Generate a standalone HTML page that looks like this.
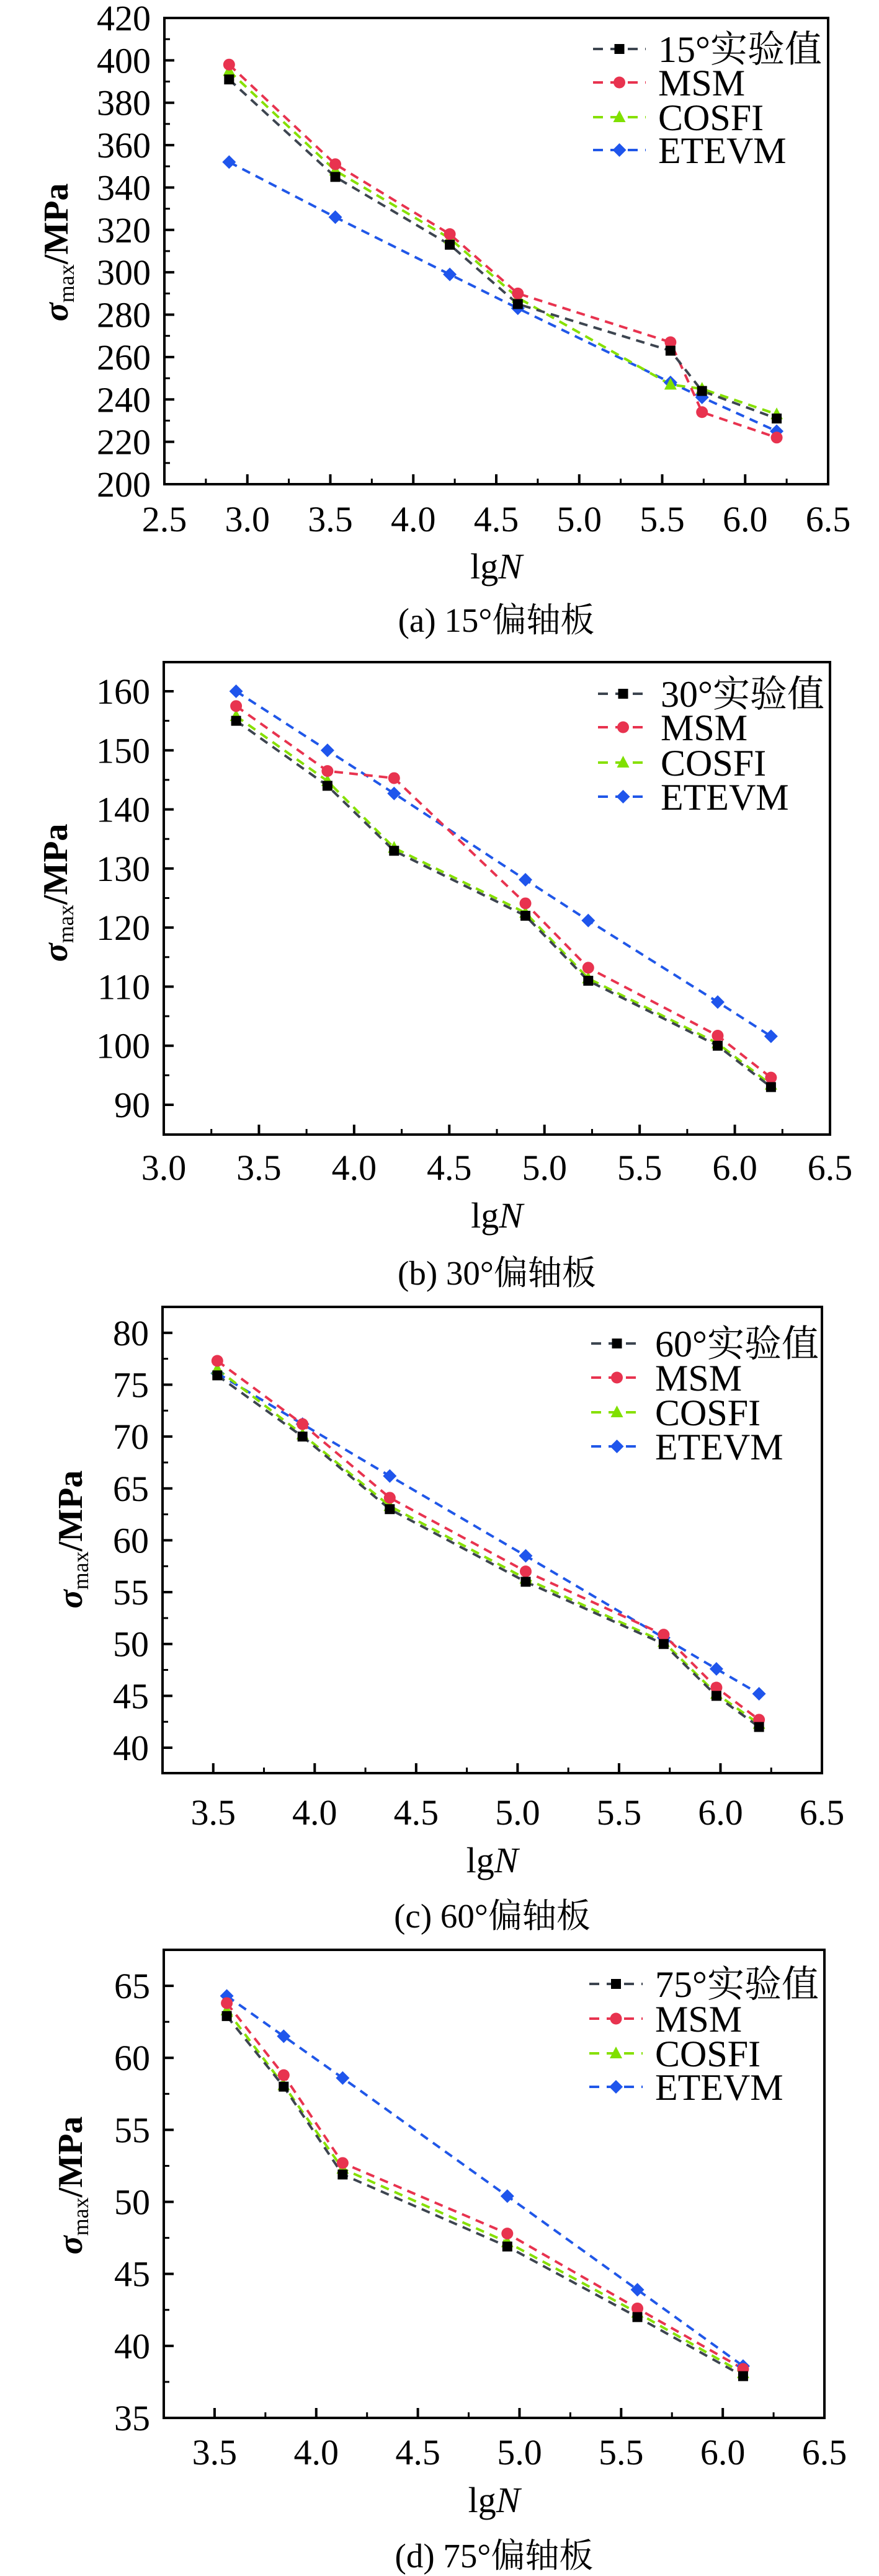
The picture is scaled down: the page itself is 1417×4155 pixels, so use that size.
<!DOCTYPE html>
<html><head><meta charset="utf-8"><style>
html,body{margin:0;padding:0;background:#fff;}
svg{display:block;}
text{font-family:"Liberation Serif","Noto Serif CJK SC","Noto Sans CJK SC",serif;fill:#000;}
</style></head><body>
<svg id="fig" width="1417" height="4155" viewBox="0 0 1417 4155" xmlns="http://www.w3.org/2000/svg"></svg>
<script>
// ---- data (a) 15°
const xA = [2.89, 3.53, 4.22, 4.63, 5.55, 5.74, 6.19];
const expA = [391, 345, 313, 285, 263, 244, 231];
const msmA = [398, 351, 318, 290, 267, 234, 222];
const cosA = [395, 348, 316, 288, 247, 245, 233];
const etvA = [352, 326, 299, 283, 248, 241, 225];
const xTicksA = ["2.5","3.0","3.5","4.0","4.5","5.0","5.5","6.0","6.5"];
const yTicksA = ["200","220","240","260","280","300","320","340","360","380","400","420"];
// ---- data (b) 30°
const xB = [3.38, 3.86, 4.21, 4.90, 5.23, 5.91, 6.19];
const expB = [155, 144, 133, 122, 111, 100, 93];
const msmB = [157.5, 146.5, 145.3, 124.1, 113.2, 101.7, 94.6];
const cosB = [155.8, 144.8, 133.5, 122.5, 111.4, 100.4, 93.4];
const etvB = [160, 150, 142.7, 128.1, 121.2, 107.4, 101.6];
const xTicksB = ["3.0","3.5","4.0","4.5","5.0","5.5","6.0","6.5"];
const yTicksB = ["90","100","110","120","130","140","150","160"];
// ---- data (c) 60°
const xC = [3.52, 3.94, 4.37, 5.04, 5.72, 5.98, 6.19];
const expC = [75.9, 70, 63, 56, 50, 45, 42];
const msmC = [77.3, 71.2, 64.1, 57, 50.9, 45.8, 42.7];
const cosC = [76.5, 70.2, 63.3, 56.3, 50.2, 45.2, 42.3];
const etvC = [76.1, 71.2, 66.2, 58.5, 50.6, 47.6, 45.2];
const xTicksC = ["3.5","4.0","4.5","5.0","5.5","6.0","6.5"];
const yTicksC = ["40","45","50","55","60","65","70","75","80"];
// ---- data (d) 75°
const xD = [3.56, 3.84, 4.13, 4.94, 5.58, 6.10];
const expD = [62.9, 58, 51.9, 46.9, 42, 37.9];
const msmD = [63.8, 58.8, 52.7, 47.8, 42.6, 38.4];
const cosD = [63.3, 58.1, 52.3, 47.2, 42.3, 38.1];
const etvD = [64.3, 61.5, 58.6, 50.4, 43.9, 38.6];
const xTicksD = ["3.5","4.0","4.5","5.0","5.5","6.0","6.5"];
const yTicksD = ["35","40","45","50","55","60","65"];
const seriesNames = ["实验值","MSM","COSFI","ETEVM"];
const anglesLbl = ["15°","30°","60°","75°"];

const NS = "http://www.w3.org/2000/svg";
const svg = document.getElementById("fig");
function mk(tag, attrs, parent){
  const e = document.createElementNS(NS, tag);
  for (const k in attrs) e.setAttribute(k, attrs[k]);
  (parent||svg).appendChild(e);
  return e;
}
const colors = {line:["#3d4550","#e8334f","#86e000","#2057e8"], mark:["#000","#e8334f","#7fe000","#1f55ec"]};

function marker(g, kind, cx, cy, col){
  let m;
  if (kind===0) m = mk("rect",{x:cx-8,y:cy-8,width:16,height:16,fill:col},g);
  else if (kind===1) m = mk("circle",{cx:cx,cy:cy,r:9.5,fill:col},g);
  else if (kind===2) m = mk("polygon",{points:`${cx},${cy-11} ${cx+10},${cy+8} ${cx-10},${cy+8}`,fill:col},g);
  else m = mk("polygon",{points:`${cx},${cy-11} ${cx+11},${cy} ${cx},${cy+11} ${cx-11},${cy}`,fill:col},g);
  return m;
}

function chart(cfg){
  const g = mk("g",{});
  
  
  const sx = v => cfg.L + (v - cfg.x0) / (cfg.x1 - cfg.x0) * (cfg.R - cfg.L);
  const sy = v => cfg.B - (v - cfg.y0) / (cfg.y1 - cfg.y0) * (cfg.B - cfg.T);
  // series lines first
  const data = [cfg.exp, cfg.msm, cfg.cos, cfg.etv];
  const snames = ['experimental','msm','cosfi','etevm'];
  for (let s=3; s>=0; s--){
    const pts = cfg.xs.map((x,i)=>sx(x)+","+sy(data[s][i])).join(" ");
    const pl = mk("polyline",{points:pts,fill:"none",stroke:colors.line[s],"stroke-width":4,"stroke-dasharray":"14 10"},g);
    
    
  }
  for (let s=3; s>=0; s--){
    cfg.xs.forEach((x,i)=>{
      const m = marker(g, s, sx(x), sy(data[s][i]), colors.mark[s]);
      
      
    });
  }
  // frame
  const fr = mk("rect",{x:cfg.L,y:cfg.T,width:cfg.R-cfg.L,height:cfg.B-cfg.T,fill:"none",stroke:"#000","stroke-width":4},g);
  
  
  // y ticks
  const ys = cfg.yt.map(Number);
  const ystep = ys[1]-ys[0];
  cfg.yt.forEach((t,i)=>{
    const y = sy(ys[i]);
    mk("line",{x1:cfg.L,x2:cfg.L+16,y1:y,y2:y,stroke:"#000","stroke-width":4},g);
    const tx = mk("text",{x:cfg.L-22,y:y+20,"font-size":58,"text-anchor":"end"},g);
    tx.textContent = t;
    
    
  });
  for (let v = ys[0]-ystep/2; v < cfg.y1; v += ystep){
    if (v < cfg.y0) continue;
    const y = sy(v);
    mk("line",{x1:cfg.L,x2:cfg.L+9,y1:y,y2:y,stroke:"#000","stroke-width":3},g);
  }
  // x ticks
  const xsT = cfg.xt.map(Number);
  const xstep = xsT[1]-xsT[0];
  cfg.xt.forEach((t,i)=>{
    const x = sx(xsT[i]);
    mk("line",{x1:x,x2:x,y1:cfg.B,y2:cfg.B-16,stroke:"#000","stroke-width":4},g);
    const tx = mk("text",{x:x,y:cfg.labY+20,"font-size":58,"text-anchor":"middle"},g);
    tx.textContent = t;
    
    
  });
  for (let v = xsT[0]-xstep/2; v < cfg.x1; v += xstep){
    if (v < cfg.x0) continue;
    const x = sx(v);
    mk("line",{x1:x,x2:x,y1:cfg.B,y2:cfg.B-9,stroke:"#000","stroke-width":3},g);
  }
  // axis titles
  const xt = mk("text",{x:(cfg.L+cfg.R)/2,y:cfg.lgY+20,"font-size":58,"text-anchor":"middle"},g);
  xt.innerHTML = 'lg<tspan font-style="italic">N</tspan>';
  
  
  const yt = mk("text",{x:0,y:0,"font-size":56,"text-anchor":"middle",transform:`translate(${cfg.ylx+18},${cfg.yly}) rotate(-90)`},g);
  yt.innerHTML = '<tspan font-style="italic" font-weight="bold">σ</tspan><tspan font-size="36" dy="10">max</tspan><tspan dy="-10" font-weight="bold">/MPa</tspan>';
  
  
  const cap = mk("text",{x:(cfg.L+cfg.R)/2,y:cfg.capY+19,"font-size":55,"text-anchor":"middle"},g);
  cap.textContent = cfg.caption;
  
  
  // legend
  const lg = mk("g",{},g);
  
  
  const labels = [cfg.angle + seriesNames[0], seriesNames[1], seriesNames[2], seriesNames[3]];
  labels.forEach((lab,s)=>{
    const y = cfg.legY[s];
    const e = mk("g",{},lg);
    
    
    mk("line",{x1:cfg.legX0,x2:cfg.legX1,y1:y,y2:y,stroke:colors.line[s],"stroke-width":4,"stroke-dasharray":"16 12"},e);
    marker(e, s, (cfg.legX0+cfg.legX1)/2, y, colors.mark[s]);
    const t = mk("text",{x:cfg.legX1+20,y:y+21,"font-size":60},e);
    t.textContent = lab;
  });
}

chart({id:'a', L:265,R:1335,T:29,B:781, x0:2.5,x1:6.5,y0:200,y1:420,
  xs:xA,exp:expA,msm:msmA,cos:cosA,etv:etvA,xt:xTicksA,yt:yTicksA,
  labY:837,lgY:913,capY:1000,ylx:91,yly:407,caption:"(a) 15°偏轴板",angle:anglesLbl[0],
  legY:[79,133,189,242],legX0:956,legX1:1041});
chart({id:'b', L:264,R:1338,T:1068,B:1830, x0:3.0,x1:6.5,y0:90-(1830-1782)/((1782-1115)/70),y1:160+(1115-1068)/((1782-1115)/70),
  xs:xB,exp:expB,msm:msmB,cos:cosB,etv:etvB,xt:xTicksB,yt:yTicksB,
  labY:1883,lgY:1960,capY:2053,ylx:90,yly:1440,caption:"(b) 30°偏轴板",angle:anglesLbl[1],
  legY:[1119,1173,1230,1285],legX0:964,legX1:1045});
chart({id:'c', L:262,R:1325,T:2108,B:2860, x0:3.25,x1:6.5,y0:37.55,y1:82.5,
  xs:xC,exp:expC,msm:msmC,cos:cosC,etv:etvC,xt:xTicksC,yt:yTicksC,
  labY:2923,lgY:3000,capY:3090,ylx:114,yly:2483,caption:"(c) 60°偏轴板",angle:anglesLbl[2],
  legY:[2167,2222,2278,2333],legX0:953,legX1:1036});
chart({id:'d', L:264,R:1329,T:3145,B:3900, x0:3.25,x1:6.5,y0:35,y1:67.5,
  xs:xD,exp:expD,msm:msmD,cos:cosD,etv:etvD,xt:xTicksD,yt:yTicksD,
  labY:3955,lgY:4032,capY:4122,ylx:114,yly:3525,caption:"(d) 75°偏轴板",angle:anglesLbl[3],
  legY:[3200,3256,3312,3366],legX0:950,legX1:1036});
</script>
</body></html>
